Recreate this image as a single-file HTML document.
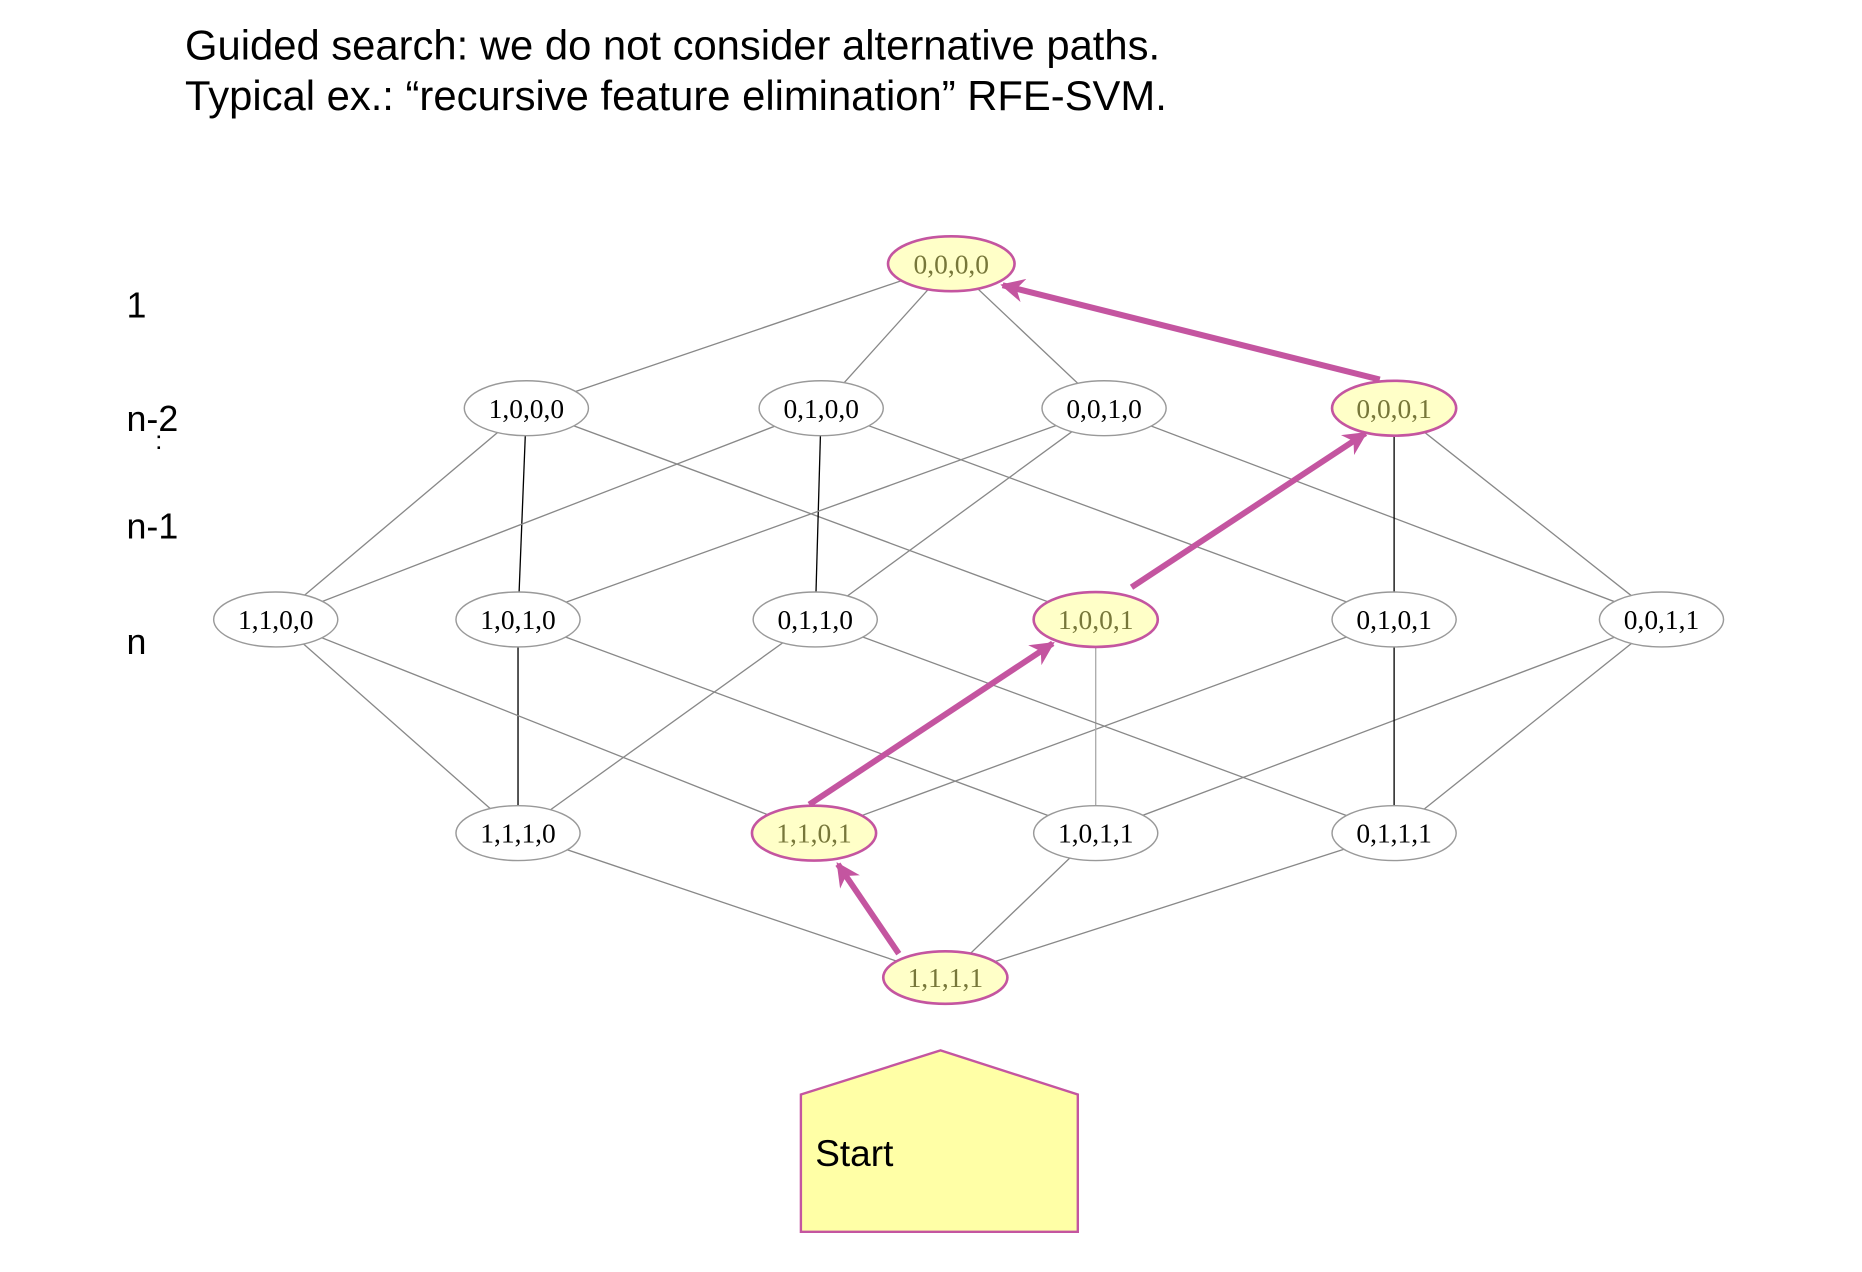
<!DOCTYPE html>
<html><head><meta charset="utf-8"><style>
html,body{margin:0;padding:0;background:#fff;}
svg{display:block;}
</style></head><body>
<svg width="1862" height="1272" viewBox="0 0 1560 1065.7" xmlns="http://www.w3.org/2000/svg">
<defs>
<marker id="pa" viewBox="0 0 10 10" refX="9" refY="5" markerWidth="4" markerHeight="4" orient="auto-start-reverse"><path d="M0,0 L10,5 L0,10 L3,5 z" fill="#c455a0"/></marker>
</defs>
<g font-family="Liberation Sans, sans-serif" fill="#000">
<text x="155" y="50" font-size="35">Guided search: we do not consider alternative paths.</text>
<text x="155" y="92" font-size="35">Typical ex.: “recursive feature elimination” RFE-SVM.</text>
<text x="106" y="266" font-size="30">1</text>
<text x="106" y="361" font-size="30">n-2</text>
<text x="130" y="376" font-size="22">:</text>
<text x="106" y="451" font-size="30">n-1</text>
<text x="106" y="548" font-size="30">n</text>
</g>
<g stroke="#888" stroke-width="1.1">
<line x1="797" y1="221" x2="441" y2="342"/>
<line x1="797" y1="221" x2="688" y2="342"/>
<line x1="797" y1="221" x2="925" y2="342"/>
<line x1="441" y1="342" x2="231" y2="519"/>
<line x1="441" y1="342" x2="434" y2="519" stroke="#000"/>
<line x1="441" y1="342" x2="918" y2="519"/>
<line x1="688" y1="342" x2="231" y2="519"/>
<line x1="688" y1="342" x2="683" y2="519" stroke="#000"/>
<line x1="688" y1="342" x2="1168" y2="519"/>
<line x1="925" y1="342" x2="434" y2="519"/>
<line x1="925" y1="342" x2="683" y2="519"/>
<line x1="925" y1="342" x2="1392" y2="519"/>
<line x1="1168" y1="342" x2="1168" y2="519" stroke="#000"/>
<line x1="1168" y1="342" x2="1392" y2="519"/>
<line x1="434" y1="698" x2="231" y2="519"/>
<line x1="434" y1="698" x2="434" y2="519" stroke="#000"/>
<line x1="434" y1="698" x2="683" y2="519"/>
<line x1="682" y1="698" x2="231" y2="519"/>
<line x1="682" y1="698" x2="1168" y2="519"/>
<line x1="918" y1="698" x2="434" y2="519"/>
<line x1="918" y1="698" x2="918" y2="519" stroke="#aaa"/>
<line x1="918" y1="698" x2="1392" y2="519"/>
<line x1="1168" y1="698" x2="683" y2="519"/>
<line x1="1168" y1="698" x2="1168" y2="519" stroke="#000"/>
<line x1="1168" y1="698" x2="1392" y2="519"/>
<line x1="792" y1="819" x2="434" y2="698"/>
<line x1="792" y1="819" x2="918" y2="698"/>
<line x1="792" y1="819" x2="1168" y2="698"/>
</g>
<g font-family="Liberation Serif, serif" font-size="23" text-anchor="middle">
<g fill="#fff" stroke="#999" stroke-width="1.2">
<ellipse cx="441" cy="342" rx="52" ry="23"/>
<ellipse cx="688" cy="342" rx="52" ry="23"/>
<ellipse cx="925" cy="342" rx="52" ry="23"/>
<ellipse cx="231" cy="519" rx="52" ry="23"/>
<ellipse cx="434" cy="519" rx="52" ry="23"/>
<ellipse cx="683" cy="519" rx="52" ry="23"/>
<ellipse cx="1168" cy="519" rx="52" ry="23"/>
<ellipse cx="1392" cy="519" rx="52" ry="23"/>
<ellipse cx="434" cy="698" rx="52" ry="23"/>
<ellipse cx="918" cy="698" rx="52" ry="23"/>
<ellipse cx="1168" cy="698" rx="52" ry="23"/>
</g>
<g fill="#ffffc8" stroke="#c455a0" stroke-width="2.2">
<ellipse cx="797" cy="221" rx="53" ry="23"/>
<ellipse cx="1168" cy="342" rx="52" ry="23"/>
<ellipse cx="918" cy="519" rx="52" ry="23"/>
<ellipse cx="682" cy="698" rx="52" ry="23"/>
<ellipse cx="792" cy="819" rx="52" ry="22"/>
</g>
<g fill="#000">
<text x="441" y="350">1,0,0,0</text>
<text x="688" y="350">0,1,0,0</text>
<text x="925" y="350">0,0,1,0</text>
<text x="231" y="527">1,1,0,0</text>
<text x="434" y="527">1,0,1,0</text>
<text x="683" y="527">0,1,1,0</text>
<text x="1168" y="527">0,1,0,1</text>
<text x="1392" y="527">0,0,1,1</text>
<text x="434" y="706">1,1,1,0</text>
<text x="918" y="706">1,0,1,1</text>
<text x="1168" y="706">0,1,1,1</text>
</g>
<g fill="#77773a">
<text x="797" y="229">0,0,0,0</text>
<text x="1168" y="350">0,0,0,1</text>
<text x="918" y="527">1,0,0,1</text>
<text x="682" y="706">1,1,0,1</text>
<text x="792" y="827">1,1,1,1</text>
</g>
</g>
<g stroke="#c455a0" stroke-width="5" fill="none" marker-end="url(#pa)">
<line x1="753" y1="799" x2="702" y2="724"/>
<line x1="678" y1="674" x2="882" y2="539"/>
<line x1="948" y1="492" x2="1144" y2="363"/>
<line x1="1156" y1="318" x2="840" y2="239"/>
</g>
<polygon points="671,917 788,880 903,917 903,1032 671,1032" fill="#ffffa6" stroke="#c455a0" stroke-width="2"/>
<text x="683" y="977" font-family="Liberation Sans, sans-serif" font-size="31">Start</text>
</svg>
</body></html>
